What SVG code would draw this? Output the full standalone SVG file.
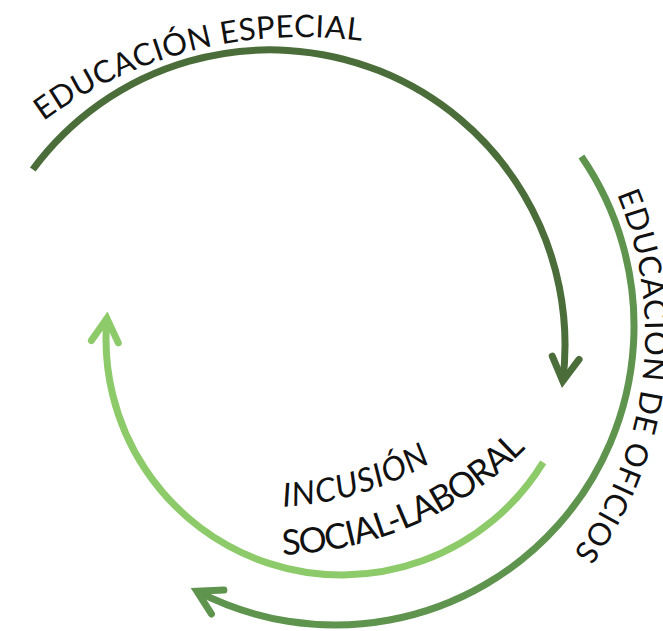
<svg xmlns="http://www.w3.org/2000/svg" xmlns:xlink="http://www.w3.org/1999/xlink" width="663" height="631" viewBox="0 0 663 631">
  <style>
    .arc { fill: none; stroke-width: 7; stroke-linecap: butt; }
    .dark { stroke: #4a6d3a; }
    .mid { stroke: #5f944f; }
    .light { stroke: #8dca69; }
    .head { fill: none; stroke-width: 7; stroke-linecap: round; stroke-linejoin: miter; stroke-miterlimit: 10; }
    .lbl { font-family: Lato, "Noto Sans", "Liberation Sans", sans-serif; fill: #111; }
  </style>
  <defs>
    <marker id="ah-dark" markerUnits="userSpaceOnUse" viewBox="-40 -40 80 80" refX="0" refY="0" markerWidth="80" markerHeight="80" orient="auto" overflow="visible">
      <path class="head" stroke="#4a6d3a" d="M -23.4,-13.5 L 0,0 L -23.4,13.5"/>
    </marker>
    <marker id="ah-mid" markerUnits="userSpaceOnUse" viewBox="-40 -40 80 80" refX="0" refY="0" markerWidth="80" markerHeight="80" orient="auto" overflow="visible">
      <path class="head" stroke="#5f944f" d="M -23.4,-13.5 L 0,0 L -23.4,13.5"/>
    </marker>
    <marker id="ah-light" markerUnits="userSpaceOnUse" viewBox="-40 -40 80 80" refX="0" refY="0" markerWidth="80" markerHeight="80" orient="auto" overflow="visible">
      <path class="head" stroke="#8dca69" d="M -23.4,-13.5 L 0,0 L -23.4,13.5"/>
    </marker>
    <path id="tp-top" d="M 31.1,130.3 A 440 440 0 0 1 415.9,52"/>
    <path id="tp-right" d="M 610.5,179.4 A 368 368 0 0 1 558.9,571.5"/>
    <path id="tp-inc" d="M 259.1,506.8 A 312 312 0 0 0 470.5,434"/>
    <path id="tp-soc" d="M 257.4,554.8 A 360 360 0 0 0 553.7,416.6"/>
  </defs>

  <g id="connectors">
    <path id="arc-especial" class="arc dark" d="M 32.8,169.5 A 295 295 0 0 1 562.8,381" marker-end="url(#ah-dark)"/>
    <path id="arc-oficios" class="arc mid" d="M 581.4,156.6 A 299 299 0 0 1 196.9,591.2" marker-end="url(#ah-mid)"/>
    <path id="arc-inclusion" class="arc light" d="M 543.2,462.3 A 236 236 0 0 1 106.9,318.4" marker-end="url(#ah-light)"/>
  </g>

  <g id="node-educacion-especial">
    <text class="lbl" font-size="31"><textPath href="#tp-top" xlink:href="#tp-top" startOffset="15.4" textLength="336" lengthAdjust="spacing">EDUCACIÓN ESPECIAL</textPath></text>
  </g>

  <g id="node-educacion-oficios">
    <text class="lbl" font-size="31"><textPath href="#tp-right" xlink:href="#tp-right" startOffset="16" textLength="378" lengthAdjust="spacing">EDUCACIÓN DE OFICIOS</textPath></text>
  </g>

  <g id="node-inclusion">
    <text class="lbl" font-size="33" font-style="italic"><textPath href="#tp-inc" xlink:href="#tp-inc" startOffset="24" textLength="156" lengthAdjust="spacing">INCUSIÓN</textPath></text>
    <text class="lbl" font-size="35"><textPath href="#tp-soc" xlink:href="#tp-soc" startOffset="25.1" textLength="272" lengthAdjust="spacing">SOCIAL-LABORAL</textPath></text>
  </g>
</svg>
